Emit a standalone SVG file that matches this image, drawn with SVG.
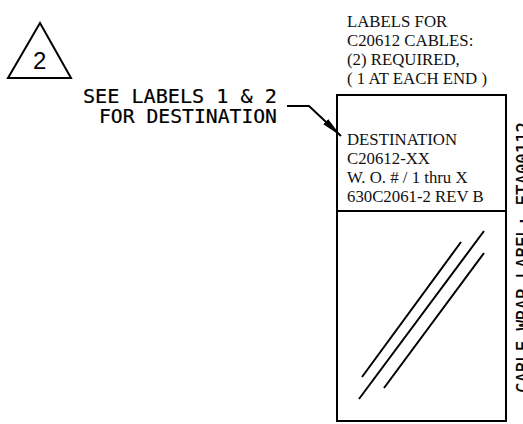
<svg xmlns="http://www.w3.org/2000/svg" width="523" height="424" viewBox="0 0 523 424">
<style>
.l{fill:none;stroke:#000;stroke-width:2}
.c{font-family:"DejaVu Sans Mono",monospace;font-size:19px;fill:#000;stroke:#000;stroke-width:.2}
.t{font-family:"Liberation Serif","Times New Roman",serif;font-size:16.800px;fill:#111}
.n{font-family:"Liberation Sans",Arial,sans-serif;font-size:24px;fill:#000}
</style>
<defs><marker id="a" markerUnits="userSpaceOnUse" markerWidth="22" markerHeight="10" refX="21" refY="5" orient="auto"><path d="M0,1.500L21,5L0,8.500Z" fill="#000"/></marker></defs>
<rect width="523" height="424" fill="#fff"/>
<g id="callout"><path class="l" d="M40,23L71,78H8Z"/><text class="n" x="33" y="69">2</text></g>
<g id="note"><text class="c" x="83" y="103" textLength="194" lengthAdjust="spacingAndGlyphs">SEE LABELS 1 &amp; 2</text><text class="c" x="99" y="123" textLength="178" lengthAdjust="spacingAndGlyphs">FOR DESTINATION</text></g>
<g id="connectors"><path class="l" d="M287,106H309L341,136" marker-end="url(#a)"/></g>
<g id="heading"><text class="t" x="347" y="27">LABELS FOR</text><text class="t" x="347" y="46">C20612 CABLES:</text><text class="t" x="347" y="65">(2) REQUIRED,</text><text class="t" x="347" y="84">( 1 AT EACH END )</text></g>
<g id="label">
<rect class="l" x="337" y="95" width="169" height="326"/><path class="l" d="M337,211H506"/>
<text class="t" x="347" y="145">DESTINATION</text><text class="t" x="347" y="164">C20612-XX</text><text class="t" x="347" y="183">W. O. # / 1 thru X</text><text class="t" x="347" y="202">630C2061-2 REV B</text>
<path class="l" d="M362,377L461,242M359,399L484,231M384,388L484,253"/>
</g>
<g id="side"><text class="c" transform="translate(530,393) rotate(-90)" x="0" y="0" textLength="271" lengthAdjust="spacingAndGlyphs">CABLE WRAP LABEL: ETA00112</text></g>
</svg>
